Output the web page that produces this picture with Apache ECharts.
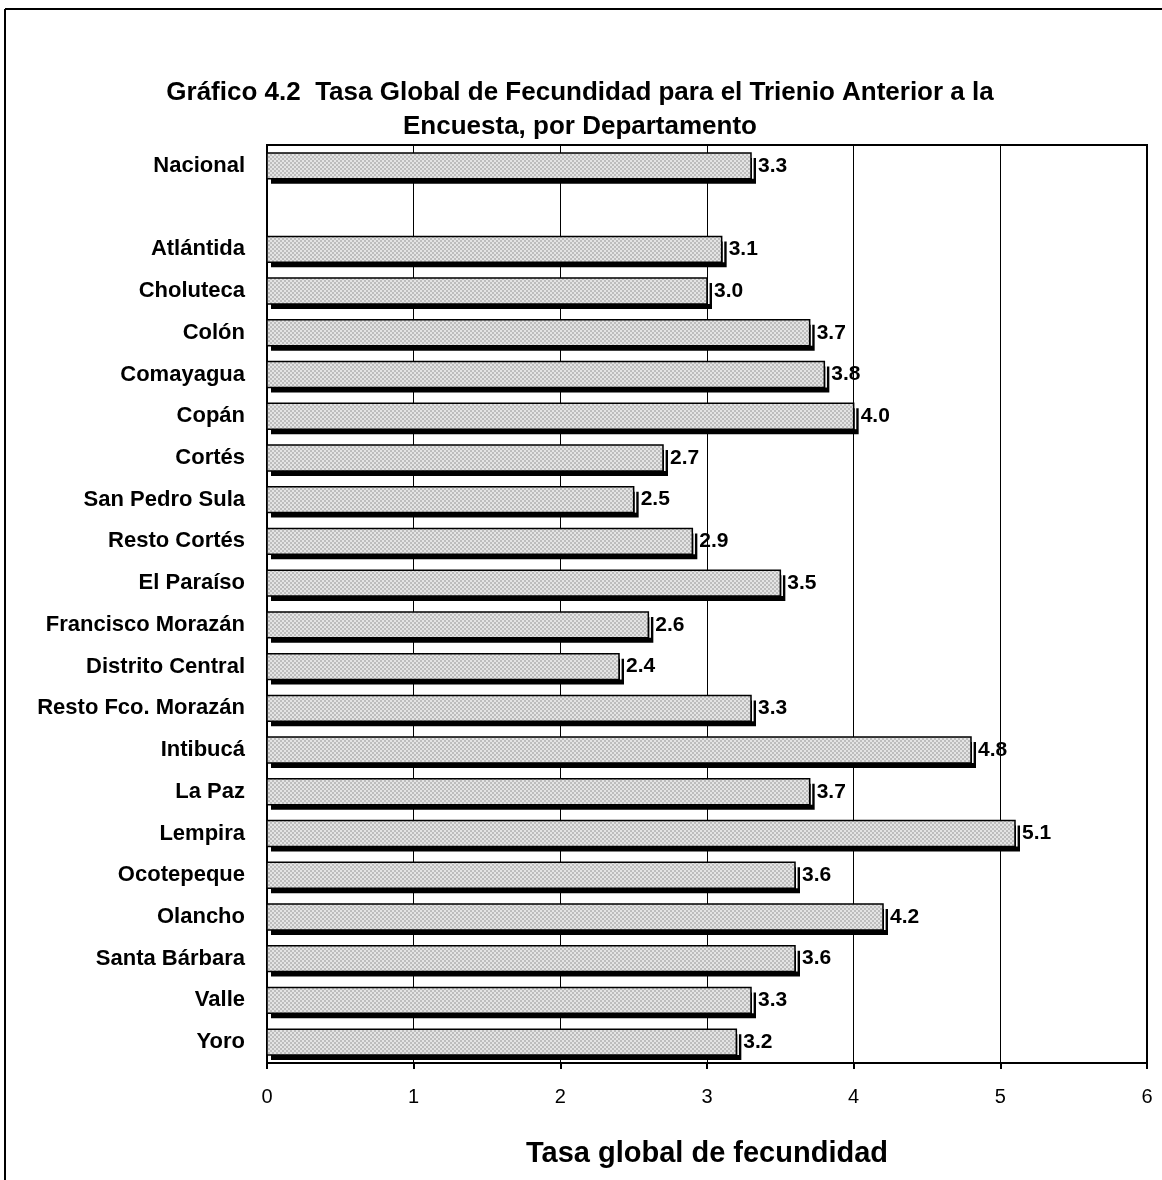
<!DOCTYPE html>
<html><head><meta charset="utf-8">
<script src="https://cdn.jsdelivr.net/npm/echarts@6/dist/echarts.min.js"></script>
<style>html,body{margin:0;padding:0;background:#fff}#c{width:1162px;height:1180px}</style>
</head><body><div id="c"></div>
<script>
const categories = ['Nacional','','Atlántida','Choluteca','Colón','Comayagua','Copán','Cortés','San Pedro Sula','Resto Cortés','El Paraíso','Francisco Morazán','Distrito Central','Resto Fco. Morazán','Intibucá','La Paz','Lempira','Ocotepeque','Olancho','Santa Bárbara','Valle','Yoro'];
const values = [3.3,null,3.1,3.0,3.7,3.8,4.0,2.7,2.5,2.9,3.5,2.6,2.4,3.3,4.8,3.7,5.1,3.6,4.2,3.6,3.3,3.2];
const xTicks = [0,1,2,3,4,5,6];

const pc = document.createElement('canvas');
pc.width = 4; pc.height = 4;
const g = pc.getContext('2d');
for (let i = 0; i < 4; i++) for (let j = 0; j < 4; j++) {
  g.fillStyle = ((Math.floor(i/2) + Math.floor(j/2)) % 2) ? '#e4e4e4' : '#bdbdbd';
  g.fillRect(i, j, 1, 1);
}
const pattern = { image: pc, repeat: 'repeat' };

const data = [];
values.forEach((v, i) => { if (v != null) data.push([v, i]); });

const FF = '"Liberation Sans", Arial, sans-serif';
const chart = echarts.init(document.getElementById('c'), null, { renderer: 'canvas' });
chart.setOption({
  animation: false,
  backgroundColor: '#fff',
  title: {
    text: 'Gráfico 4.2  Tasa Global de Fecundidad para el Trienio Anterior a la\nEncuesta, por Departamento',
    left: 575, top: 71, textAlign: 'center',
    textStyle: { fontFamily: FF, fontWeight: 'bold', fontSize: 26, lineHeight: 34, color: '#000' }
  },
  graphic: [
    { type: 'line', shape: { x1: 5, y1: 9, x2: 5, y2: 1180 }, style: { stroke: '#000', lineWidth: 2 } },
    { type: 'line', shape: { x1: 5, y1: 9, x2: 1162, y2: 9 }, style: { stroke: '#000', lineWidth: 2 } }
  ],
  grid: { left: 267, right: 15, top: 145, bottom: 117, show: true, borderColor: '#000', borderWidth: 2, backgroundColor: 'transparent' },
  xAxis: {
    type: 'value', min: 0, max: 6, interval: 1,
    axisLine: { show: true, lineStyle: { color: '#000', width: 2 } },
    axisTick: { show: true, length: 6, lineStyle: { color: '#000', width: 2 } },
    axisLabel: { margin: 24, fontFamily: FF, fontSize: 20, color: '#000',
      formatter: v => xTicks.includes(v) ? String(v) : '' },
    splitLine: { show: true, lineStyle: { color: '#000', width: 1 } },
    name: 'Tasa global de fecundidad', nameLocation: 'middle', nameGap: 76,
    nameTextStyle: { fontFamily: FF, fontWeight: 'bold', fontSize: 29, color: '#000' }
  },
  yAxis: {
    type: 'category', data: categories, inverse: true,
    axisLine: { show: false }, axisTick: { show: false },
    axisLabel: { margin: 22, fontFamily: FF, fontWeight: 'bold', fontSize: 22, color: '#000' },
    splitLine: { show: false }
  },
  series: [{
    type: 'custom',
    data: data,
    encode: { x: 0, y: 1 },
    renderItem: function (params, api) {
      const v = api.value(0), idx = api.value(1);
      const p0 = api.coord([0, idx]);
      const p1 = api.coord([v, idx]);
      const band = api.size([0, 1])[1];
      const h = band * 0.62;
      const x0 = p0[0], x1 = p1[0], yT = p0[1] - h / 2, w = x1 - x0;
      return {
        type: 'group',
        children: [
          { type: 'rect', shape: { x: x0 + 4, y: yT + 5, width: w + 1, height: h }, style: { fill: '#000' } },
          { type: 'rect', shape: { x: x1 + 1, y: yT + 4, width: 1.6, height: h - 4 }, style: { fill: '#fff' } },
          { type: 'rect', shape: { x: x0, y: yT, width: w, height: h }, style: { fill: pattern, stroke: '#000', lineWidth: 1.5 } },
          { type: 'text', style: { text: v.toFixed(1), x: x1 + 7, y: p0[1], verticalAlign: 'middle', align: 'left',
              font: 'bold 21px "Liberation Sans", Arial, sans-serif', fill: '#000' } }
        ]
      };
    }
  }]
});
</script></body></html>
